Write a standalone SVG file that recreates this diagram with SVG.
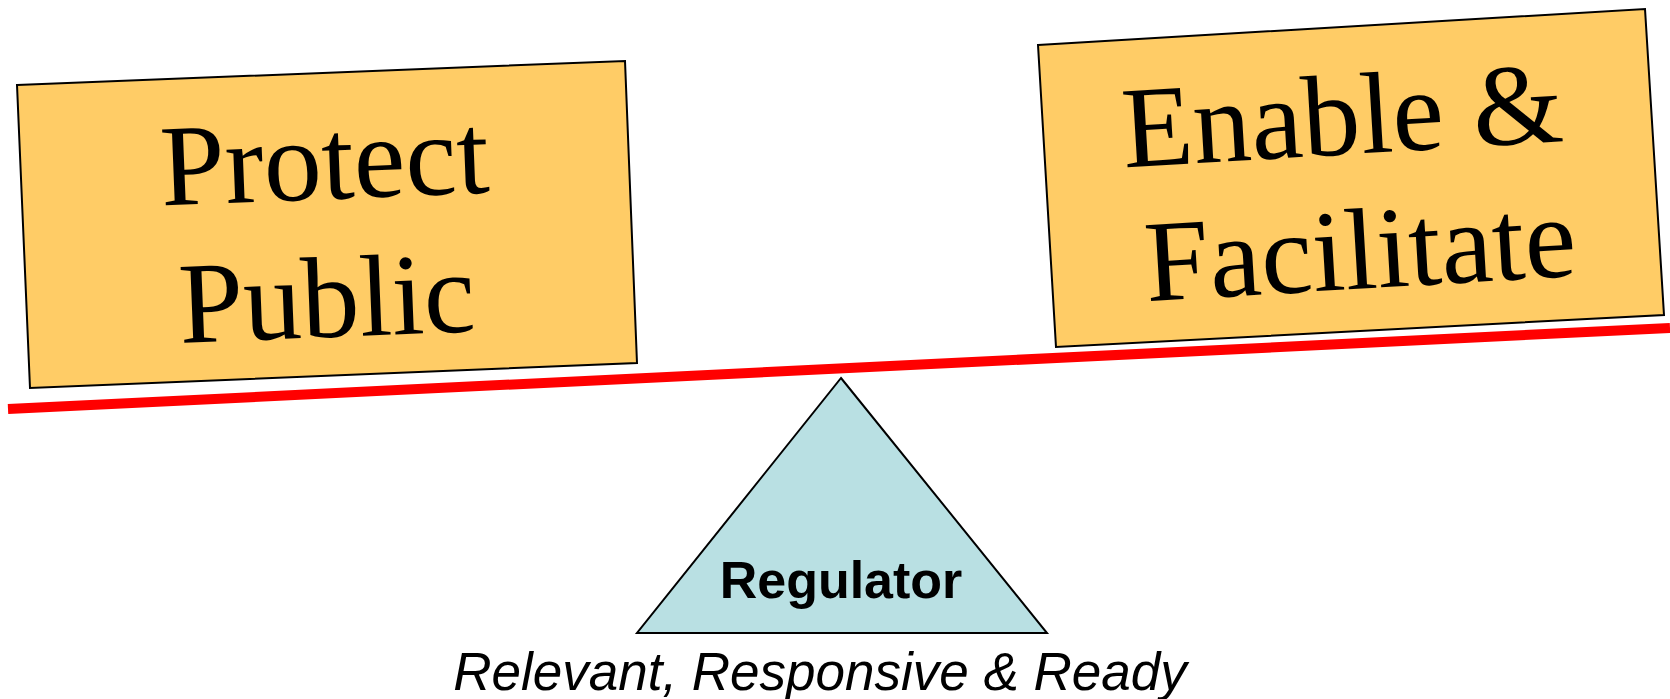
<svg xmlns="http://www.w3.org/2000/svg" width="1670" height="699" viewBox="0 0 1670 699">
<style>
.box{fill:#FFCC66;stroke:#000;stroke-width:2}
.big{font-family:"Liberation Serif","Times New Roman",serif;font-size:116px;fill:#000;text-anchor:middle}
.tri{fill:#B9E0E3;stroke:#000;stroke-width:2}
.reg{font-family:"Liberation Sans",Arial,sans-serif;font-weight:bold;font-size:52px;text-anchor:middle;fill:#000}
.sub{font-family:"Liberation Sans",Arial,sans-serif;font-style:italic;font-size:53px;text-anchor:middle;fill:#000}
</style>
<g id="beam">
<line x1="8" y1="409" x2="1670" y2="328" stroke="#FF0000" stroke-width="10"/>
</g>
<g id="protect">
<polygon class="box" points="17,85 625,61 637,363 30,388"/>
<g transform="translate(327,224) rotate(-2.26)">
<text class="big" x="0" y="-25">Protect</text>
<text class="big" x="-3" y="113">Public</text>
</g>
</g>
<g id="enable">
<polygon class="box" points="1038,45 1645,9 1664,315 1056,347"/>
<g transform="translate(1351,179) rotate(-3.4)">
<text class="big" x="-5" y="-25">Enable &amp;</text>
<text class="big" x="5" y="110">Facilitate</text>
</g>
</g>
<g id="regulator">
<polygon class="tri" points="841,378 1047,633 637,633"/>
<text class="reg" x="841" y="598">Regulator</text>
</g>
<text class="sub" x="820" y="690">Relevant, Responsive &amp; Ready</text>
</svg>
